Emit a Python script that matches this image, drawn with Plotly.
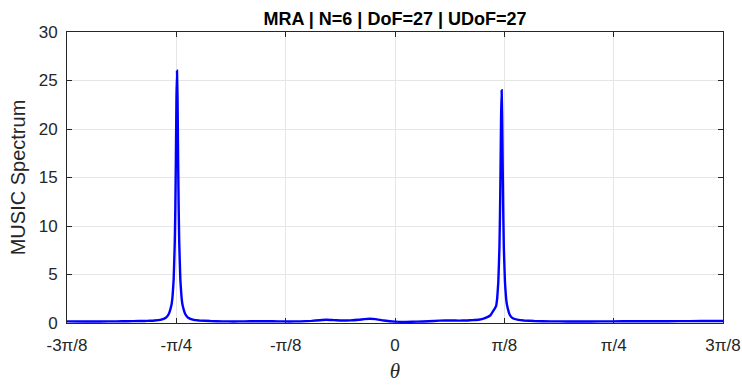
import numpy as np
import plotly.graph_objects as go

# theta (rad) and MUSIC spectrum values
theta = [-1.1781, -1.12, -1.06, -1.00, -0.96, -0.92, -0.90, -0.88, -0.863, -0.843,
         -0.823, -0.813, -0.803, -0.799, -0.795, -0.791, -0.789, -0.787, -0.785, -0.783,
         -0.781, -0.779, -0.777, -0.775, -0.771, -0.767, -0.763, -0.753, -0.743, -0.723,
         -0.703, -0.663, -0.62, -0.58, -0.54, -0.50, -0.46, -0.42, -0.38, -0.34,
         -0.30, -0.27, -0.246, -0.22, -0.19, -0.16, -0.13, -0.11, -0.09, -0.07,
         -0.04, 0.00, 0.04, 0.08, 0.12, 0.16, 0.20, 0.23, 0.26, 0.28,
         0.30, 0.323, 0.343, 0.353, 0.363, 0.367, 0.371, 0.375, 0.377, 0.379,
         0.381, 0.383, 0.385, 0.387, 0.389, 0.391, 0.395, 0.399, 0.403, 0.413,
         0.423, 0.443, 0.463, 0.50, 0.56, 0.62, 0.70, 0.78, 0.86, 0.94,
         1.02, 1.10, 1.1781]
spectrum = [0.17, 0.16, 0.16, 0.17, 0.18, 0.20, 0.21, 0.23, 0.26, 0.33,
            0.55, 0.90, 1.85, 2.75, 4.5, 8.3, 11.9, 17.0, 23.0, 26.0,
            23.0, 17.0, 11.9, 8.3, 4.5, 2.75, 1.85, 0.90, 0.55, 0.33,
            0.26, 0.20, 0.17, 0.16, 0.17, 0.18, 0.18, 0.17, 0.16, 0.17,
            0.22, 0.29, 0.33, 0.30, 0.26, 0.27, 0.33, 0.40, 0.44, 0.40,
            0.26, 0.14, 0.12, 0.14, 0.18, 0.24, 0.26, 0.25, 0.26, 0.30,
            0.33, 0.50, 0.80, 1.25, 1.75, 2.55, 4.2, 7.7, 11.0, 15.7,
            21.2, 24.0, 21.2, 15.7, 11.0, 7.7, 4.2, 2.55, 1.75, 0.80,
            0.50, 0.33, 0.26, 0.20, 0.17, 0.16, 0.16, 0.17, 0.18, 0.18,
            0.19, 0.20, 0.20]

xtick_vals = [-3*np.pi/8, -np.pi/4, -np.pi/8, 0, np.pi/8, np.pi/4, 3*np.pi/8]
xtick_text = ["-3\u03c0/8", "-\u03c0/4", "-\u03c0/8", "0", "\u03c0/8", "\u03c0/4", "3\u03c0/8"]
ytick_vals = [0, 5, 10, 15, 20, 25, 30]

fig = go.Figure()
fig.add_trace(go.Scatter(x=theta, y=spectrum, mode="lines",
                         line=dict(color="#0000ff", width=2.4, shape="spline", smoothing=0.3),
                         showlegend=False))

axis_common = dict(showline=True, linecolor="#262626", linewidth=1, mirror="ticks",
                   ticks="inside", ticklen=5, tickcolor="#262626",
                   showgrid=True, gridcolor="#e6e6e6", gridwidth=1, zeroline=False,
                   automargin=False,
                   tickfont=dict(family="Liberation Sans, Arial", size=17, color="#262626"))

fig.update_layout(
    width=742, height=385,
    margin=dict(l=67, r=19, t=32, b=62),
    paper_bgcolor="white", plot_bgcolor="white",
    title=dict(text="<b>MRA | N=6 | DoF=27 | UDoF=27</b>", x=0.5, xref="paper",
               y=1 - 18.5/385, yref="container", xanchor="center", yanchor="middle",
               font=dict(family="Liberation Sans, Arial", size=18, color="black")),
    xaxis=dict(range=[-3*np.pi/8, 3*np.pi/8], tickvals=xtick_vals, ticktext=xtick_text,
               ticklabelstandoff=7,
               title=dict(text="<i>\u03b8</i>", standoff=8,
                          font=dict(family="Liberation Serif, Times New Roman", size=21, color="#262626")),
               **axis_common),
    yaxis=dict(range=[0, 30], tickvals=ytick_vals, ticklabelstandoff=5,
               title=dict(text="MUSIC Spectrum", standoff=7,
                          font=dict(family="Liberation Sans, Arial", size=20, color="#262626")),
               **axis_common),
)

fig.write_html("out.html")
